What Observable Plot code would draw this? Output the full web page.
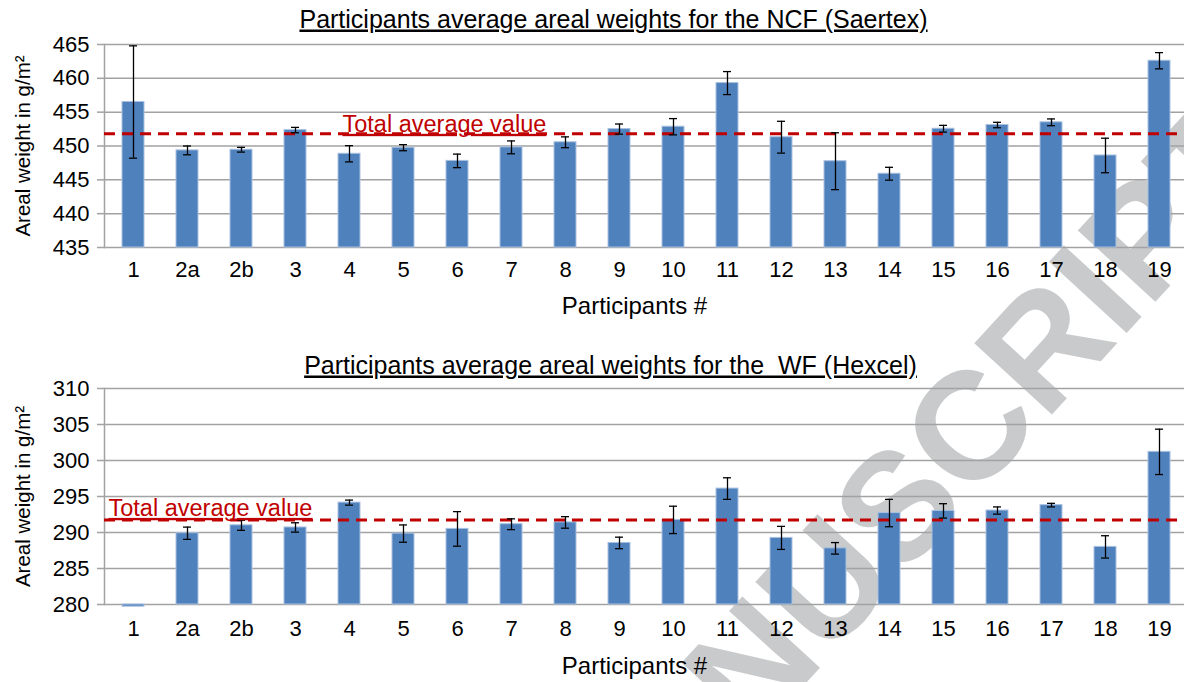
<!DOCTYPE html>
<html>
<head>
<meta charset="utf-8">
<script src="https://cdn.jsdelivr.net/npm/d3@7"></script>
<script src="https://cdn.jsdelivr.net/npm/@observablehq/plot@0.6"></script>
<style>
  html, body { margin: 0; padding: 0; background: #fff; overflow: hidden; }
  #wrap { position: relative; width: 1184px; height: 682px; overflow: hidden; background: #fff;
          font-family: Arial, "Liberation Sans", sans-serif; }
  #wm { position: absolute; left: 0; top: 0; }
  .panel { position: absolute; left: 0; }
</style>
</head>
<body>
<div id="wrap">
  <svg id="wm" width="1184" height="682">
    <text transform="translate(591.4,917) rotate(-47.5)" font-family="Arial, 'Liberation Sans', sans-serif"
          font-size="153" font-weight="bold" fill="#c9cacb">MANUSCRIPT</text>
  </svg>
  <div id="top" class="panel" style="top:0"></div>
  <div id="bottom" class="panel" style="top:340px"></div>
</div>
<script>
// Participants (x categories)
const participants = ["1", "2a", "2b", "3", "4", "5", "6", "7", "8", "9", "10",
                      "11", "12", "13", "14", "15", "16", "17", "18", "19"];

// NCF (Saertex): mean areal weight and standard deviation, g/m²
const ncfMean = [456.5, 449.35, 449.45, 452.35, 448.85, 449.75, 447.8, 449.8, 450.55, 452.5,
                 452.85, 459.3, 451.3, 447.75, 445.9, 452.55, 453.1, 453.5, 448.6, 462.6];
const ncfSd   = [8.3, 0.65, 0.35, 0.4, 1.2, 0.45, 1.0, 0.95, 0.8, 0.75,
                 1.2, 1.7, 2.35, 4.2, 0.95, 0.5, 0.4, 0.5, 2.55, 1.2];
const ncfTotalAverage = 451.8;
const ncfTicks = [435, 440, 445, 450, 455, 460, 465];

// WF (Hexcel): mean areal weight and standard deviation, g/m²
const wfMean = [279.7, 289.9, 291.0, 290.7, 294.15, 289.85, 290.5, 291.15, 291.4, 288.55,
                291.75, 296.1, 289.25, 287.8, 292.7, 293.0, 293.05, 293.8, 288.0, 301.2];
const wfSd   = [null, 0.85, 0.7, 0.65, 0.35, 1.2, 2.4, 0.75, 0.8, 0.8,
                1.9, 1.5, 1.6, 0.8, 1.9, 1.0, 0.5, 0.25, 1.55, 3.15];
const wfTotalAverage = 291.75;
const wfTicks = [280, 285, 290, 295, 300, 305, 310];

const titles = {
  ncf: "Participants average areal weights for the NCF (Saertex)",
  wf: "Participants average areal weights for the  WF (Hexcel)"
};
const xLabel = "Participants #";
const yLabel = "Areal weight in g/m²";
const averageLabel = "Total average value";

const FONT = "Arial, 'Liberation Sans', sans-serif";
const GRID = "#a2a2a2";
const BAR = "#4f81bd";
const RED = "#c00000";

function panel({means, sds, average, ticks, title, height, marginTop, marginBottom,
                titleDx, titleDy, labelDx, labelDy, xLabelDy, tickPad}) {
  const rows = participants.map((p, i) => ({p, v: means[i], e: sds[i]}));
  const err = rows.filter(d => d.e != null);
  const lo = ticks[0];
  const svg = Plot.plot({
    width: 1188,
    height,
    marginLeft: 104,
    marginRight: 0,
    marginTop,
    marginBottom,
    style: {fontFamily: FONT, background: "transparent", maxWidth: "none", overflow: "visible", color: "black"},
    x: {type: "band", domain: participants, paddingInner: 0.59, paddingOuter: 0.295, align: 0.5},
    y: {domain: [ticks[0], ticks[ticks.length - 1]]},
    marks: [
      Plot.gridY(ticks, {stroke: GRID, strokeOpacity: 1, strokeWidth: 1.5}),
      Plot.frame({anchor: "left", stroke: GRID, strokeWidth: 1.5}),
      Plot.axisY(ticks, {tickSize: 7, tickPadding: 8, fontSize: 22, stroke: GRID, strokeWidth: 1.5, label: null}),
      Plot.axisX({tickSize: 0, tickPadding: tickPad, fontSize: 22, label: null}),
      Plot.barY(rows, {x: "p", y1: lo, y2: "v", fill: BAR, stroke: "#a9c1e0", strokeWidth: 1}),
      Plot.ruleY([average], {stroke: RED, strokeWidth: 3, strokeDasharray: "11,7"}),
      Plot.ruleX(err, {x: "p", y1: d => d.v - d.e, y2: d => d.v + d.e, stroke: "black", strokeWidth: 1.3}),
      Plot.tickY(err, {x: "p", y: d => d.v - d.e, stroke: "black", strokeWidth: 1.3, insetLeft: 7, insetRight: 7}),
      Plot.tickY(err, {x: "p", y: d => d.v + d.e, stroke: "black", strokeWidth: 1.3, insetLeft: 7, insetRight: 7}),
      Plot.text([averageLabel], {y: [average], frameAnchor: "left", textAnchor: "start", lineAnchor: "bottom",
                                 dx: labelDx, dy: labelDy, fontSize: 23.5, fill: RED}),
      Plot.text([title], {frameAnchor: "top", lineAnchor: "bottom", dx: titleDx, dy: titleDy, fontSize: 25, fill: "black"}),
      Plot.text([xLabel], {frameAnchor: "bottom", lineAnchor: "bottom", dx: -12, dy: xLabelDy, fontSize: 24, fill: "black"}),
      Plot.text([yLabel], {frameAnchor: "left", textAnchor: "middle", rotate: -90, dx: -81, fontSize: 20.5, fill: "black"})
    ]
  });
  // underline titles and the average label; keep double spaces
  svg.querySelectorAll("text").forEach(t => {
    const s = t.textContent;
    if (s === title || s === averageLabel) {
      t.style.textDecoration = "underline";
      t.style.whiteSpace = "pre";
    }
  });
  return svg;
}

document.getElementById("top").appendChild(panel({
  means: ncfMean, sds: ncfSd, average: ncfTotalAverage, ticks: ncfTicks, title: titles.ncf,
  height: 340, marginTop: 44, marginBottom: 93,
  titleDx: -33, titleDy: -17, labelDx: 238, labelDy: -2, xLabelDy: 66, tickPad: 14
}));

document.getElementById("bottom").appendChild(panel({
  means: wfMean, sds: wfSd, average: wfTotalAverage, ticks: wfTicks, title: titles.wf,
  height: 342, marginTop: 48, marginBottom: 78,
  titleDx: -36, titleDy: -15, labelDx: 4, labelDy: -4, xLabelDy: 69, tickPad: 16
}));
</script>
</body>
</html>
